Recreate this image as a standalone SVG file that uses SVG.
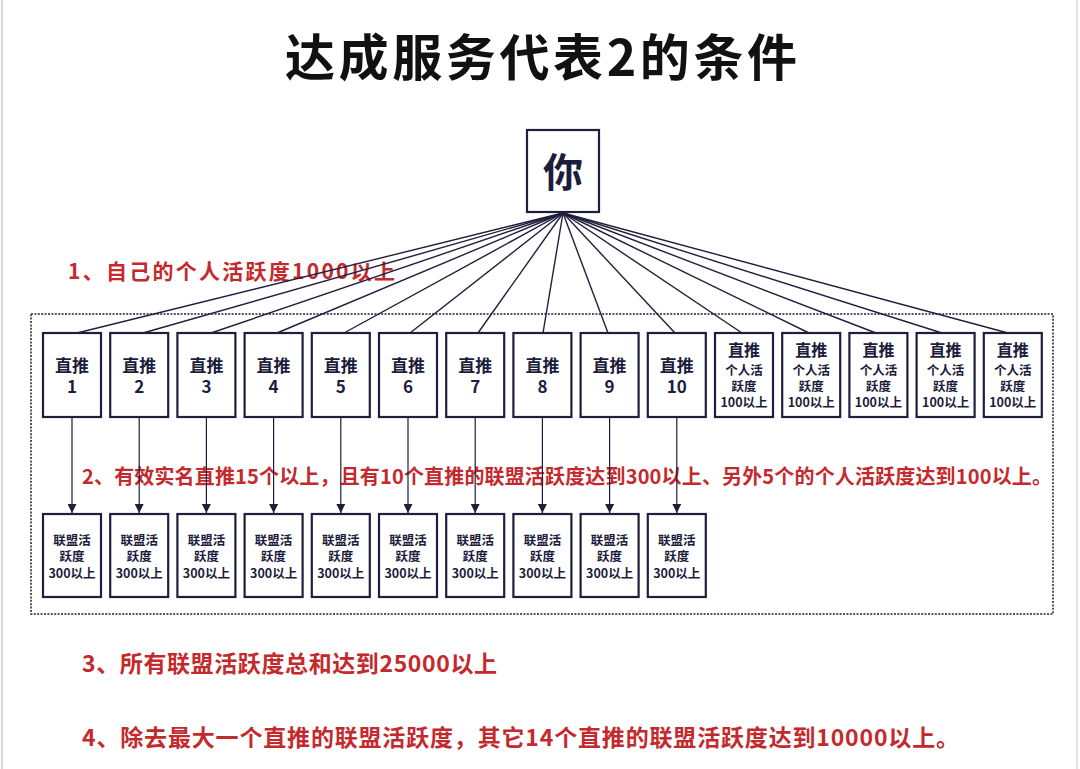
<svg xmlns="http://www.w3.org/2000/svg" width="1080" height="769" viewBox="0 0 1080 769">
<style>
.t{font-family:"Noto Sans CJK SC","Noto Sans CJK JP",sans-serif;font-weight:bold}
.red{fill:#c42a2d}
.box{fill:#ffffff;stroke:#1f1f3d;stroke-width:2.2}
.bt{fill:#1c1c3c;text-anchor:middle}
.s{font-size:12.5px}
.m{font-size:17px}
.h{font-size:16px}
.ln{stroke:#1f1f3d;stroke-width:1.4;fill:none}
.ar{stroke:#1f1f3d;stroke-width:1.2;fill:none}
</style>
<defs>
<marker id="ah" viewBox="0 0 10 10" refX="10" refY="5" markerWidth="9" markerHeight="9" markerUnits="userSpaceOnUse" orient="auto">
<path d="M0,0 L10,5 L0,10 Z" fill="#1f1f3d"/>
</marker>
</defs>
<rect x="0" y="0" width="1080" height="769" fill="#ffffff"/>
<line x1="2" y1="0" x2="2" y2="769" stroke="#d8d8d8" stroke-width="2"/>
<line x1="1077" y1="0" x2="1077" y2="769" stroke="#e4e4e4" stroke-width="2"/>

<g id="title">
<text class="t" x="285" y="76" font-size="50" font-weight="900" fill="#111111" textLength="512" lengthAdjust="spacing">达成服务代表2的条件</text>
</g>

<g id="labels">
<text class="t red" x="68" y="279" font-size="21" textLength="327" lengthAdjust="spacing">1、自己的个人活跃度1000以上</text>
<text class="t red" x="82" y="484" font-size="20" textLength="970" lengthAdjust="spacing">2、有效实名直推15个以上，且有10个直推的联盟活跃度达到300以上、另外5个的个人活跃度达到100以上。</text>
<text class="t red" x="82" y="672" font-size="23" textLength="415" lengthAdjust="spacing">3、所有联盟活跃度总和达到25000以上</text>
<text class="t red" x="82" y="746" font-size="23" textLength="877" lengthAdjust="spacing">4、除去最大一个直推的联盟活跃度，其它14个直推的联盟活跃度达到10000以上。</text>
</g>

<rect id="group-frame" x="31" y="314" width="1022" height="300" fill="none" stroke="#5d5264" stroke-width="2" stroke-dasharray="2 1.4"/>

<g id="connectors">
<line class="ln" x1="563" y1="213" x2="77" y2="333"/>
<line class="ln" x1="563" y1="213" x2="143" y2="333"/>
<line class="ln" x1="563" y1="213" x2="211" y2="333"/>
<line class="ln" x1="563" y1="213" x2="277" y2="333"/>
<line class="ln" x1="563" y1="213" x2="344" y2="333"/>
<line class="ln" x1="563" y1="213" x2="410" y2="333"/>
<line class="ln" x1="563" y1="213" x2="478" y2="333"/>
<line class="ln" x1="563" y1="213" x2="543" y2="333"/>
<line class="ln" x1="563" y1="213" x2="608" y2="333"/>
<line class="ln" x1="563" y1="213" x2="675" y2="333"/>
<line class="ln" x1="563" y1="213" x2="742" y2="333"/>
<line class="ln" x1="563" y1="213" x2="809" y2="333"/>
<line class="ln" x1="563" y1="213" x2="876" y2="333"/>
<line class="ln" x1="563" y1="213" x2="942" y2="333"/>
<line class="ln" x1="563" y1="213" x2="1008" y2="333"/>
<line class="ar" x1="72" y1="417" x2="72" y2="513" marker-end="url(#ah)"/>
<line class="ar" x1="139.2" y1="417" x2="139.2" y2="513" marker-end="url(#ah)"/>
<line class="ar" x1="206.4" y1="417" x2="206.4" y2="513" marker-end="url(#ah)"/>
<line class="ar" x1="273.6" y1="417" x2="273.6" y2="513" marker-end="url(#ah)"/>
<line class="ar" x1="340.8" y1="417" x2="340.8" y2="513" marker-end="url(#ah)"/>
<line class="ar" x1="408" y1="417" x2="408" y2="513" marker-end="url(#ah)"/>
<line class="ar" x1="475.2" y1="417" x2="475.2" y2="513" marker-end="url(#ah)"/>
<line class="ar" x1="542.4" y1="417" x2="542.4" y2="513" marker-end="url(#ah)"/>
<line class="ar" x1="609.6" y1="417" x2="609.6" y2="513" marker-end="url(#ah)"/>
<line class="ar" x1="676.8" y1="417" x2="676.8" y2="513" marker-end="url(#ah)"/>
</g>

<g id="you">
<rect class="box" x="527" y="130" width="72" height="82"/>
<text class="t bt" x="563" y="187" font-size="40">你</text>
</g>

<g id="d1"><rect class="box" x="43" y="333" width="58" height="84"/><text class="t bt m" x="72" y="372">直推<tspan x="72" dy="21">1</tspan></text></g>
<g id="d2"><rect class="box" x="110.2" y="333" width="58" height="84"/><text class="t bt m" x="139.2" y="372">直推<tspan x="139.2" dy="21">2</tspan></text></g>
<g id="d3"><rect class="box" x="177.4" y="333" width="58" height="84"/><text class="t bt m" x="206.4" y="372">直推<tspan x="206.4" dy="21">3</tspan></text></g>
<g id="d4"><rect class="box" x="244.6" y="333" width="58" height="84"/><text class="t bt m" x="273.6" y="372">直推<tspan x="273.6" dy="21">4</tspan></text></g>
<g id="d5"><rect class="box" x="311.8" y="333" width="58" height="84"/><text class="t bt m" x="340.8" y="372">直推<tspan x="340.8" dy="21">5</tspan></text></g>
<g id="d6"><rect class="box" x="379" y="333" width="58" height="84"/><text class="t bt m" x="408" y="372">直推<tspan x="408" dy="21">6</tspan></text></g>
<g id="d7"><rect class="box" x="446.2" y="333" width="58" height="84"/><text class="t bt m" x="475.2" y="372">直推<tspan x="475.2" dy="21">7</tspan></text></g>
<g id="d8"><rect class="box" x="513.4" y="333" width="58" height="84"/><text class="t bt m" x="542.4" y="372">直推<tspan x="542.4" dy="21">8</tspan></text></g>
<g id="d9"><rect class="box" x="580.6" y="333" width="58" height="84"/><text class="t bt m" x="609.6" y="372">直推<tspan x="609.6" dy="21">9</tspan></text></g>
<g id="d10"><rect class="box" x="647.8" y="333" width="58" height="84"/><text class="t bt m" x="676.8" y="372">直推<tspan x="676.8" dy="21">10</tspan></text></g>

<g id="d11"><rect class="box" x="715" y="333" width="58" height="84"/><text class="t bt h" x="744" y="356">直推<tspan class="s" x="744" dy="19">个人活</tspan><tspan class="s" x="744" dy="16">跃度</tspan><tspan class="s" x="744" dy="16">100以上</tspan></text></g>
<g id="d12"><rect class="box" x="782.2" y="333" width="58" height="84"/><text class="t bt h" x="811.2" y="356">直推<tspan class="s" x="811.2" dy="19">个人活</tspan><tspan class="s" x="811.2" dy="16">跃度</tspan><tspan class="s" x="811.2" dy="16">100以上</tspan></text></g>
<g id="d13"><rect class="box" x="849.4" y="333" width="58" height="84"/><text class="t bt h" x="878.4" y="356">直推<tspan class="s" x="878.4" dy="19">个人活</tspan><tspan class="s" x="878.4" dy="16">跃度</tspan><tspan class="s" x="878.4" dy="16">100以上</tspan></text></g>
<g id="d14"><rect class="box" x="916.6" y="333" width="58" height="84"/><text class="t bt h" x="945.6" y="356">直推<tspan class="s" x="945.6" dy="19">个人活</tspan><tspan class="s" x="945.6" dy="16">跃度</tspan><tspan class="s" x="945.6" dy="16">100以上</tspan></text></g>
<g id="d15"><rect class="box" x="983.8" y="333" width="58" height="84"/><text class="t bt h" x="1012.8" y="356">直推<tspan class="s" x="1012.8" dy="19">个人活</tspan><tspan class="s" x="1012.8" dy="16">跃度</tspan><tspan class="s" x="1012.8" dy="16">100以上</tspan></text></g>

<g id="a1"><rect class="box" x="43" y="514" width="58" height="83"/><text class="t bt s" x="72" y="545">联盟活<tspan x="72" dy="16">跃度</tspan><tspan x="72" dy="17">300以上</tspan></text></g>
<g id="a2"><rect class="box" x="110.2" y="514" width="58" height="83"/><text class="t bt s" x="139.2" y="545">联盟活<tspan x="139.2" dy="16">跃度</tspan><tspan x="139.2" dy="17">300以上</tspan></text></g>
<g id="a3"><rect class="box" x="177.4" y="514" width="58" height="83"/><text class="t bt s" x="206.4" y="545">联盟活<tspan x="206.4" dy="16">跃度</tspan><tspan x="206.4" dy="17">300以上</tspan></text></g>
<g id="a4"><rect class="box" x="244.6" y="514" width="58" height="83"/><text class="t bt s" x="273.6" y="545">联盟活<tspan x="273.6" dy="16">跃度</tspan><tspan x="273.6" dy="17">300以上</tspan></text></g>
<g id="a5"><rect class="box" x="311.8" y="514" width="58" height="83"/><text class="t bt s" x="340.8" y="545">联盟活<tspan x="340.8" dy="16">跃度</tspan><tspan x="340.8" dy="17">300以上</tspan></text></g>
<g id="a6"><rect class="box" x="379" y="514" width="58" height="83"/><text class="t bt s" x="408" y="545">联盟活<tspan x="408" dy="16">跃度</tspan><tspan x="408" dy="17">300以上</tspan></text></g>
<g id="a7"><rect class="box" x="446.2" y="514" width="58" height="83"/><text class="t bt s" x="475.2" y="545">联盟活<tspan x="475.2" dy="16">跃度</tspan><tspan x="475.2" dy="17">300以上</tspan></text></g>
<g id="a8"><rect class="box" x="513.4" y="514" width="58" height="83"/><text class="t bt s" x="542.4" y="545">联盟活<tspan x="542.4" dy="16">跃度</tspan><tspan x="542.4" dy="17">300以上</tspan></text></g>
<g id="a9"><rect class="box" x="580.6" y="514" width="58" height="83"/><text class="t bt s" x="609.6" y="545">联盟活<tspan x="609.6" dy="16">跃度</tspan><tspan x="609.6" dy="17">300以上</tspan></text></g>
<g id="a10"><rect class="box" x="647.8" y="514" width="58" height="83"/><text class="t bt s" x="676.8" y="545">联盟活<tspan x="676.8" dy="16">跃度</tspan><tspan x="676.8" dy="17">300以上</tspan></text></g>
</svg>
